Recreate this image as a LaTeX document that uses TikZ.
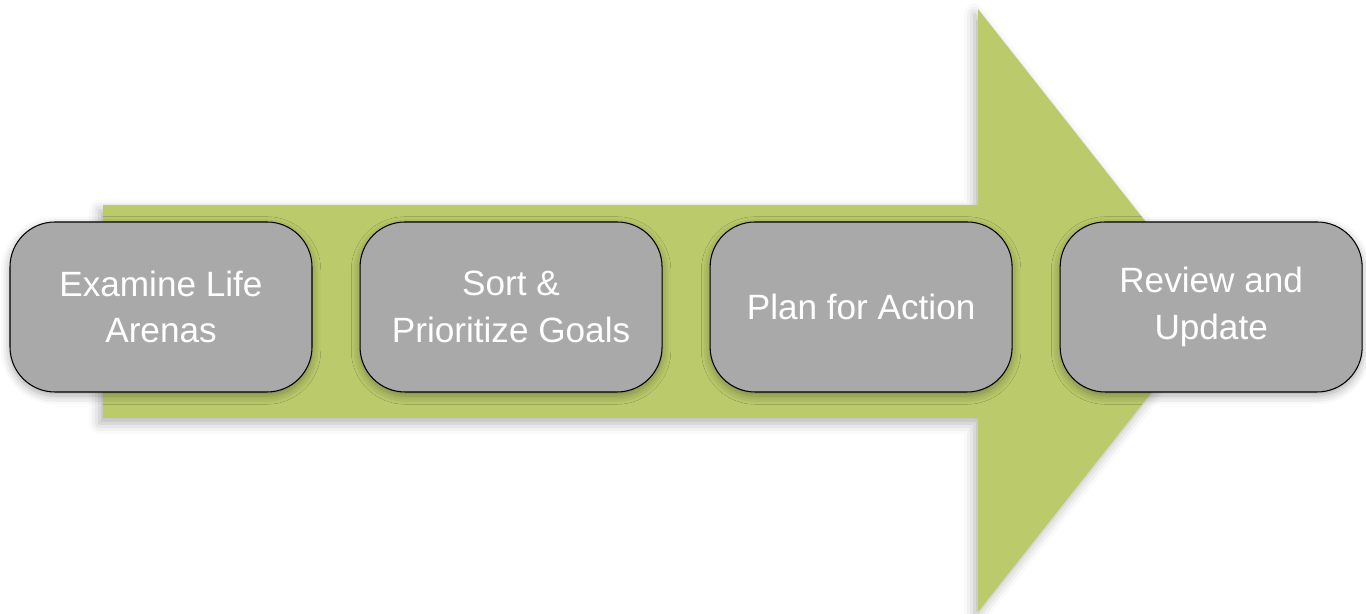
\documentclass[tikz,border=0pt]{standalone}
\usepackage{fontspec}
\setmainfont{Liberation Sans}
\usetikzlibrary{positioning,shadows.blur}

\definecolor{arrowgreen}{HTML}{BBCB6B}
\definecolor{boxgray}{HTML}{A9A9A9}

\tikzset{
  stagebox/.style={draw=black,line width=0.6pt,fill=boxgray,rounded corners=0.9cm,
    minimum width=6.04cm,minimum height=3.4cm,align=center,text=white,
    font=\fontsize{20}{26.5}\selectfont,
    blur shadow={shadow xshift=0pt,shadow yshift=-2pt,shadow blur radius=5pt,shadow opacity=35}},
}

\begin{document}
\begin{tikzpicture}[node distance=0.94cm]
\useasboundingbox (0,0) rectangle (27.32,12.28);

% big arrow behind the stages
\fill[arrowgreen,blur shadow={shadow xshift=-2pt,shadow yshift=-3pt,shadow blur radius=6pt,shadow opacity=30}]
	(2.06,8.18)--(19.56,8.18)--(19.56,12.10)--(24.32,6.06)--(19.56,0.04)--(19.56,3.92)--(2.06,3.92)--cycle;

\node[stagebox] (examine) at (3.22,6.14) {Examine Life\\Arenas};
\node[stagebox,right=of examine] (sort) {Sort \&\\Prioritize Goals};
\node[stagebox,right=of sort] (plan) {Plan for Action};
\node[stagebox,right=of plan] (review) {Review and\\Update};

\end{tikzpicture}
\end{document}
